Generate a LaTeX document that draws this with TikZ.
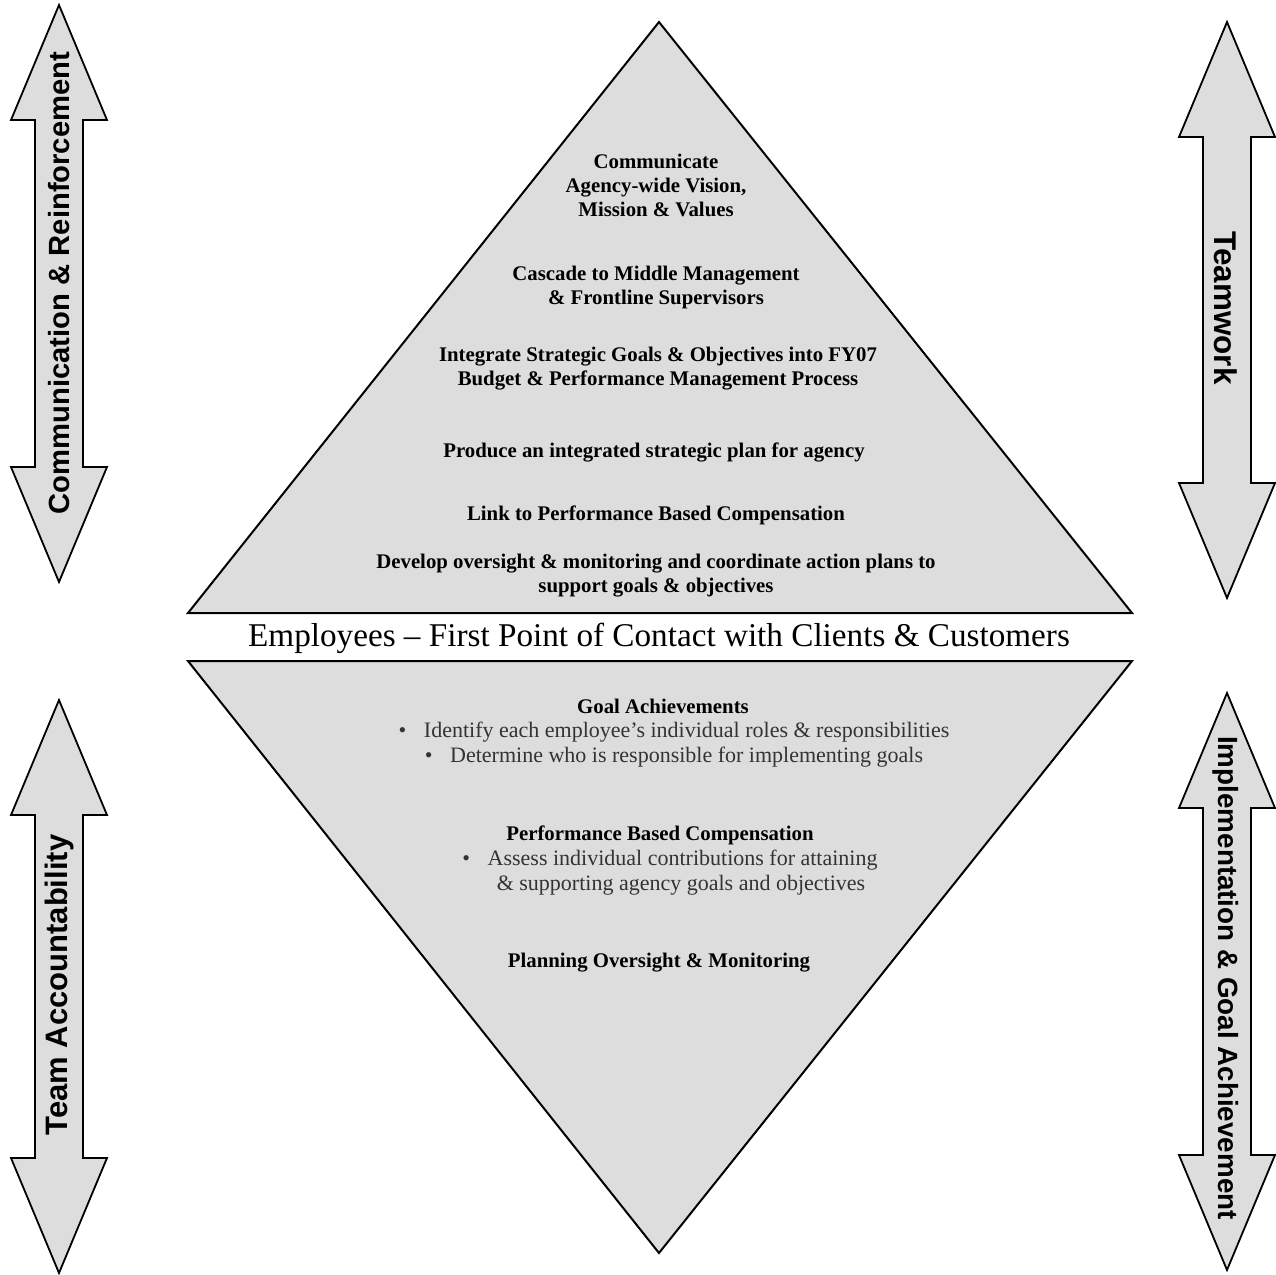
\documentclass[tikz,border=0pt]{standalone}
\usepackage{fontspec}
\setmainfont{Liberation Serif}
\setsansfont{Liberation Sans}
\definecolor{panelgray}{RGB}{221,221,221}
\tikzset{
  panel/.style={draw=black, line width=1pt, fill=panelgray},
  blockArrow/.style={draw=black, line width=0.9pt, fill=panelgray},
  stepText/.style={font=\bfseries\fontsize{10.4}{12}\selectfont, align=center, inner sep=0pt},
  listText/.style={font=\fontsize{11}{12.5}\selectfont, text=black!80, align=center, inner sep=0pt},
  sideLabel/.style={font=\sffamily\bfseries\fontsize{#1}{18}\selectfont, inner sep=0pt},
  sideLabel/.default=15,
  bandText/.style={font=\fontsize{16.6}{20}\selectfont, inner sep=0pt}
}
\newcommand{\listdot}{\textbullet\hspace{0.8em}}

\begin{document}
\begin{tikzpicture}[x=0.5pt, y=-0.5pt]
\useasboundingbox (0,0) rectangle (1276,1275);

% Block arrows at the sides
\foreach \cx/\ytop/\ybot in {59/5/582, 59/700/1273, 1227/22/598, 1227/693/1270} {
  \draw[blockArrow] (\cx,\ytop) -- (\cx+48,\ytop+115) -- (\cx+24,\ytop+115)
    -- (\cx+24,\ybot-115) -- (\cx+48,\ybot-115) -- (\cx,\ybot)
    -- (\cx-48,\ybot-115) -- (\cx-24,\ybot-115) -- (\cx-24,\ytop+115)
    -- (\cx-48,\ytop+115) -- cycle;
}

% Side labels
\node[sideLabel=14.6, rotate=90] (commLabel) at (59,283) {Communication \& Reinforcement};
\node[sideLabel=15.5, rotate=90] (teamAcc) at (59,985) {Team Accountability};
\node[sideLabel=15.7, rotate=-90] (teamwork) at (1226,308) {Teamwork};
\node[sideLabel=13.9, rotate=-90] (implLabel) at (1226,978) {Implementation \& Goal Achievement};

% Upper and lower triangles
\draw[panel] (659,22) -- (1132,613) -- (188,613) -- cycle;
\draw[panel] (188,661) -- (1132,661) -- (659,1253) -- cycle;

% Upper steps
\node[stepText] (vision) at (656,185) {Communicate\\Agency-wide Vision,\\Mission \& Values};
\node[stepText] (cascade) at (656,287) {Cascade to Middle Management\\\& Frontline Supervisors};
\node[stepText] (integrate) at (658,369) {Integrate Strategic Goals \& Objectives into FY07\\Budget \& Performance Management Process};
\node[stepText] (produce) at (654,452) {Produce an integrated strategic plan for agency};
\node[stepText] (link) at (656,515) {Link to Performance Based Compensation};
\node[stepText] (develop) at (656,576) {Develop oversight \& monitoring and coordinate action plans to\\support goals \& objectives};

% Middle band
\node[bandText] (employees) at (659,638) {Employees -- First Point of Contact with Clients \& Customers};

% Lower items
\node[stepText] (goalHead) at (663,706) {Goal Achievements};
\node[listText] (goalList) at (674,745) {\listdot Identify each employee’s individual roles \& responsibilities\\
  \listdot Determine who is responsible for implementing goals};
\node[stepText] (compHead) at (660,835) {Performance Based Compensation};
\node[listText] (compList) at (670,873) {\listdot Assess individual contributions for attaining\\
  \hspace*{11pt}\& supporting agency goals and objectives};
\node[stepText] (planning) at (659,963) {Planning Oversight \& Monitoring};

\end{tikzpicture}
\end{document}
